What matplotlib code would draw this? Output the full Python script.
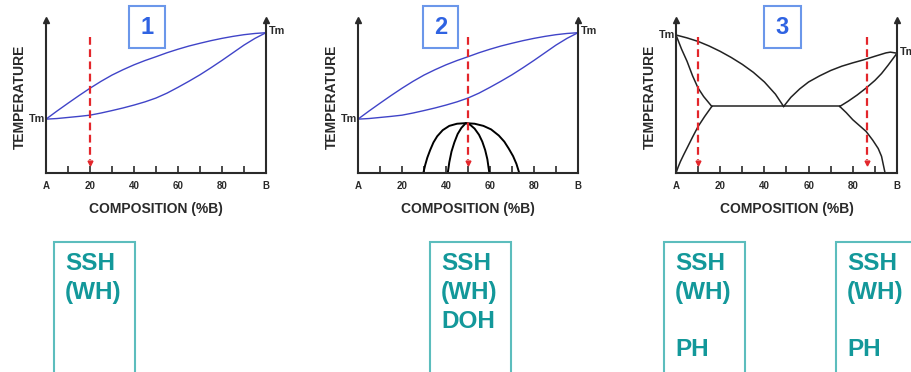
import matplotlib
matplotlib.use("Agg")
import matplotlib.pyplot as plt
from matplotlib.patches import Rectangle

plt.rcParams['font.family'] = ['Liberation Sans', 'DejaVu Sans']
plt.rcParams['font.weight'] = 'bold'

# ---------------- data ----------------
tick_vals = [0, 10, 20, 30, 40, 50, 60, 70, 80, 90, 100]
tick_labels = ['A', '', '20', '', '40', '', '60', '', '80', '', 'B']
panel_numbers = ['1', '2', '3']

# isomorphous diagram (panels 1 and 2)
iso_comp = [0, 5, 10, 15, 20, 25, 30, 35, 40, 45, 50, 55, 60, 65, 70, 75, 80, 85, 90, 95, 100]
iso_liquidus = [35.2, 40.5, 45.6, 50.6, 55.4, 59.9, 64.0, 67.5, 70.7, 73.5, 76.0, 78.6,
                80.9, 83.0, 84.8, 86.5, 88.0, 89.3, 90.4, 91.2, 91.7]
iso_solidus = [35.2, 35.6, 36.3, 37.0, 37.8, 39.2, 40.8, 42.5, 44.4, 46.5, 49.0, 52.2,
               56.0, 60.0, 64.2, 68.8, 73.6, 78.6, 83.6, 88.0, 91.7]

# miscibility / ordering domes (panel 2)
dome_outer_comp = [29.7, 30.5, 31.5, 32.8, 34.3, 36.0, 38.5, 41.5, 45.0, 49.0, 53.0, 57.0,
                   60.5, 64.0, 66.5, 68.5, 70.5, 72.0, 73.3]
dome_outer_T = [0, 5, 10, 15, 20, 24, 28, 30.8, 32.2, 32.6, 32.2, 30.8,
                28.5, 24.5, 20.5, 16, 11, 6, 0]
dome_inner_comp = [40.8, 41.5, 42.5, 43.8, 45.3, 47.0, 49.0, 51.0, 53.0, 55.0, 56.5, 57.8, 58.8, 59.7]
dome_inner_T = [0, 7, 14, 20, 25.5, 29.5, 32.6, 31.5, 29, 25, 20.5, 15, 9, 0]

# eutectic diagram (panel 3)
eut_liq_left_comp = [0, 5, 10, 15, 20, 25, 30, 35, 40, 45, 48.7]
eut_liq_left_T = [90.2, 88.3, 86.0, 83.0, 79.5, 75.5, 71.0, 65.8, 59.5, 51.5, 43.5]
eut_sol_left_comp = [0, 2.5, 5, 7.5, 10, 12.5, 14.5, 16.2]
eut_sol_left_T = [90.2, 81, 73, 63.5, 55.5, 50, 46.5, 43.5]
eut_svs_left_comp = [0, 1, 2, 3.5, 5, 7.5, 10, 13, 16.2]
eut_svs_left_T = [0, 4, 7.5, 12, 16.3, 23.5, 30.4, 37, 43.5]
eut_line_comp = [16.2, 74.1]
eut_line_T = [43.5, 43.5]
eut_liq_right_comp = [48.7, 52, 56, 60, 65, 70, 75, 80, 85, 90, 95, 97, 100]
eut_liq_right_T = [43.5, 49.5, 55.0, 59.5, 63.5, 67.0, 69.8, 72.0, 74.0, 76.3, 78.5, 79.0, 78.3]
eut_sol_right_comp = [74.1, 78, 82, 86, 90, 93, 96, 100]
eut_sol_right_T = [43.5, 47, 51, 55.5, 60.5, 65, 70.5, 78.3]
eut_svs_right_comp = [74.1, 77, 80, 83, 86, 89, 91.5, 93, 94.6]
eut_svs_right_T = [43.5, 39.5, 34.8, 31, 27.2, 21.5, 16, 10.9, 0]

# dashed composition markers
markers_p1 = [20]
markers_p2 = [50]
markers_p3 = [10, 86.5]
marker_top = 89
marker_bottom = 6.5

# hardening mechanism boxes
box_texts = [
    ['SSH', '(WH)'],
    ['SSH', '(WH)', 'DOH'],
    ['SSH', '(WH)', '', 'PH'],
    ['SSH', '(WH)', '', 'PH'],
]

# ---------------- figure ----------------
W, H = 912, 372
fig = plt.figure(figsize=(W / 100, H / 100), dpi=100)
fig.patch.set_facecolor('white')

BLUE = '#4044c8'
RED = '#e3262b'
TEAL_T = '#13989a'
TEAL_E = '#5cbdbd'
NUM_C = '#2f63e2'
NUM_E = '#6b97ea'
AX_C = '#2a2a2a'


def fx(px):
    return px / W


def fy(py):
    return 1 - py / H


def make_axes(x0, x1):
    top, bottom = 20, 173
    ax = fig.add_axes([fx(x0), fy(bottom), fx(x1 - x0), (bottom - top) / H])
    ax.set_xlim(0, 100)
    ax.set_ylim(0, 100)
    ax.spines['top'].set_visible(False)
    for s in ('left', 'right', 'bottom'):
        ax.spines[s].set_linewidth(1.5)
        ax.spines[s].set_color(AX_C)
    ax.set_xticks(tick_vals)
    ax.set_xticklabels(tick_labels)
    ax.tick_params(axis='x', direction='in', length=5, width=1.2, pad=6,
                   labelsize=7, colors=AX_C)
    ax.set_yticks([])
    for xa in (0, 1):
        ax.plot([xa], [1.0], marker='^', markersize=4, color=AX_C,
                transform=ax.transAxes, clip_on=False)
    ax.set_xlabel('COMPOSITION (%B)', fontsize=10, fontweight='bold',
                  labelpad=8, color=AX_C)
    ax.set_ylabel('TEMPERATURE', fontsize=10, fontweight='bold',
                  labelpad=14, color=AX_C)
    ax.patch.set_alpha(0)
    return ax


def dashed_marker(ax, x):
    ax.plot([x, x], [marker_top, marker_bottom + 2], color=RED, lw=1.6,
            linestyle=(0, (3.5, 2)), clip_on=False)
    ax.plot([x], [marker_bottom], marker='v', markersize=3.5, color=RED, clip_on=False)


def number_box(x0, x1, text):
    fig.patches.append(Rectangle((fx(x0), fy(48)), fx(x1 - x0), (48 - 6) / H,
                                 transform=fig.transFigure, fill=False,
                                 edgecolor=NUM_E, lw=1.5))
    fig.text(fx((x0 + x1) / 2), fy(27), text, ha='center', va='center',
             fontsize=17, fontweight='bold', color=NUM_C)


def tm_label(ax, side, T):
    if side == 'left':
        ax.text(-0.5, T, 'Tm', ha='right', va='center', fontsize=7.8,
                fontweight='bold', color=AX_C, clip_on=False)
    else:
        ax.text(1.5 + 100, T + 1, 'Tm', ha='left', va='center', fontsize=7.8,
                fontweight='bold', color=AX_C, clip_on=False)


# panel 1
ax1 = make_axes(46, 266)
ax1.plot(iso_comp, iso_liquidus, color=BLUE, lw=1.0)
ax1.plot(iso_comp, iso_solidus, color=BLUE, lw=1.0)
for m in markers_p1:
    dashed_marker(ax1, m)
tm_label(ax1, 'left', iso_liquidus[0])
tm_label(ax1, 'right', iso_liquidus[-1])
number_box(129, 165, panel_numbers[0])

# panel 2
ax2 = make_axes(358, 578)
ax2.plot(iso_comp, iso_liquidus, color=BLUE, lw=1.0)
ax2.plot(iso_comp, iso_solidus, color=BLUE, lw=1.0)
ax2.plot(dome_outer_comp, dome_outer_T, color='black', lw=1.4)
ax2.plot(dome_inner_comp, dome_inner_T, color='black', lw=1.4)
for m in markers_p2:
    dashed_marker(ax2, m)
tm_label(ax2, 'left', iso_liquidus[0])
tm_label(ax2, 'right', iso_liquidus[-1])
number_box(423, 458, panel_numbers[1])

# panel 3
ax3 = make_axes(676, 897)
for c, t in [(eut_liq_left_comp, eut_liq_left_T), (eut_sol_left_comp, eut_sol_left_T),
             (eut_svs_left_comp, eut_svs_left_T), (eut_line_comp, eut_line_T),
             (eut_liq_right_comp, eut_liq_right_T), (eut_sol_right_comp, eut_sol_right_T),
             (eut_svs_right_comp, eut_svs_right_T)]:
    ax3.plot(c, t, color='#222222', lw=1.1)
for m in markers_p3:
    dashed_marker(ax3, m)
tm_label(ax3, 'left', eut_liq_left_T[0])
tm_label(ax3, 'right', eut_liq_right_T[-1])
number_box(764, 801, panel_numbers[2])

# bottom boxes
box_x = [(54, 135), (430, 511), (664, 745), (836, 960)]
for (x0, x1), lines in zip(box_x, box_texts):
    fig.patches.append(Rectangle((fx(x0), fy(400)), fx(x1 - x0), (400 - 242) / H,
                                 transform=fig.transFigure, fill=False,
                                 edgecolor=TEAL_E, lw=1.5, clip_on=True))
    for i, s in enumerate(lines):
        if s:
            fig.text(fx(x0 + 11), fy(263 + 29 * i), s, ha='left', va='center',
                     fontsize=17.5, fontweight='bold', color=TEAL_T)

fig.savefig('out.png', dpi=100, facecolor='white')
